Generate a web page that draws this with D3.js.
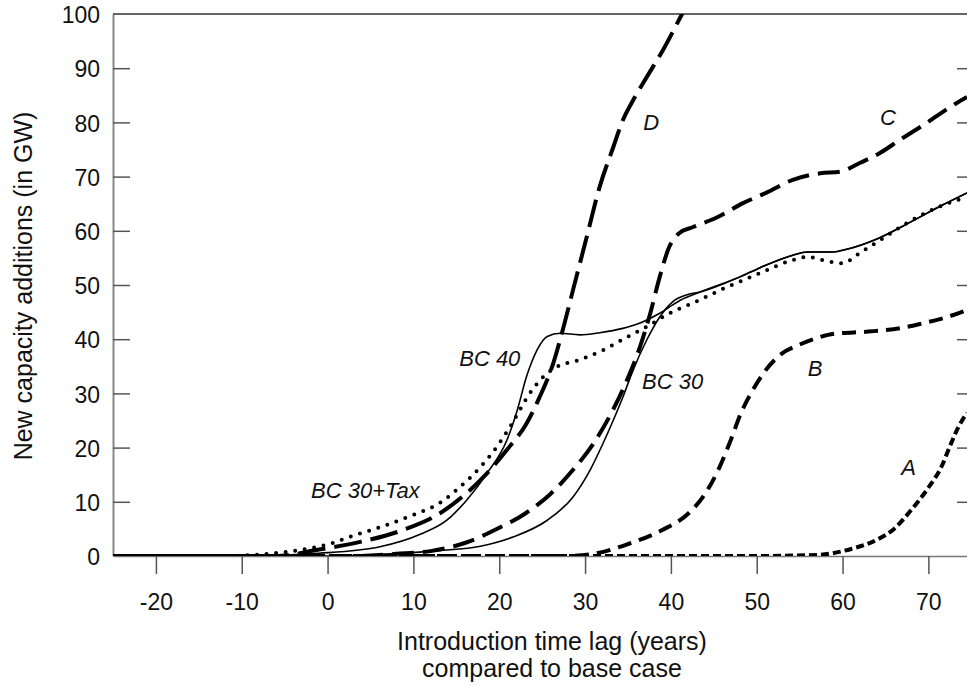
<!DOCTYPE html>
<html>
<head>
<meta charset="utf-8">
<script src="https://cdn.jsdelivr.net/npm/d3@7"></script>
<style>
  html, body { margin: 0; padding: 0; background: #fff; }
  svg { display: block; font-family: "Liberation Sans", Arial, sans-serif; }
</style>
</head>
<body>
<div id="chart"></div>
<script>
// ---- data (x = introduction time lag in years, y = GW) ----
const xTicks = [-20, -10, 0, 10, 20, 30, 40, 50, 60, 70];
const yTicks = [0, 10, 20, 30, 40, 50, 60, 70, 80, 90, 100];

const curveA = [[-25, 0], [50, 0], [57, 0.2], [61, 1.3], [64, 3.0], [66, 5.0], [68, 8.5], [70, 12.6],
  [71.5, 16.4], [72.6, 20.6], [73.5, 23.8], [74.5, 26.4]];

const curveB = [[-25, 0], [28, 0], [31, 0.4], [35, 2.2], [39, 4.8], [42, 7.8], [44, 11.5], [45.7, 16.5],
  [47, 21.5], [48.2, 26.5], [49.5, 30.5], [51, 34.2], [52.8, 37.2], [55, 39.0], [57, 40.2], [59, 41.0],
  [63, 41.4], [67, 42.1], [69.5, 43.0], [72, 44.0], [74.5, 45.4]];

const curveC = [[-25, 0], [3, 0], [8, 0.4], [12, 0.9], [16, 2.4], [20, 5.2], [23, 7.8], [26, 11.5],
  [28.6, 15.9], [31, 20.8], [33.2, 26.8], [34.9, 32.5], [36.4, 38.6], [37.6, 44.8], [38.7, 51.5],
  [39.8, 57], [41, 59.6], [42.6, 60.7], [45.4, 62.5], [48.4, 65.1], [51.2, 67.1], [54.2, 69.4],
  [57.4, 70.6], [59.7, 70.9], [62, 72.5], [64.4, 74.4], [66.7, 76.8], [69.8, 79.9], [72.5, 82.8], [74.5, 84.7]];

const curveD = [[-25, 0], [-6, 0], [-1, 1.2], [3.8, 2.6], [8.8, 4.8], [13.1, 7.9], [16.2, 11.6],
  [18.6, 15.3], [20.9, 19.6], [23.2, 24.5], [24.7, 29.3], [26.3, 35.6], [27.4, 41.7], [28.6, 49.1],
  [30.2, 58.9], [31.7, 68.1], [33.3, 75.5], [34.4, 80.4], [35.6, 84.1], [37.2, 88.4], [39.1, 93.4],
  [41.3, 100], [42.3, 103]];

const curveBC40 = [[-25, 0], [-10, 0], [-1, 0.5], [6.1, 1.7], [10.8, 4.0], [13.9, 6.6], [16.2, 10.3],
  [18.6, 15.3], [20.9, 21.4], [22.1, 26.9], [23.2, 33.2], [24.4, 38.0], [25.6, 40.5], [27.1, 41.1],
  [29.4, 40.8], [31.7, 41.2], [34.4, 42.0], [36.1, 42.8], [38.7, 44.8], [41.1, 47.2], [43.4, 48.7],
  [48.05, 51.5], [50.4, 53.2], [54.2, 55.5], [55.9, 56.1], [58.9, 56.1], [60.5, 56.6], [64, 58.5],
  [67.9, 61.6], [71.7, 64.8], [74.5, 67.0]];

const curveBC30Head = [[-25, 0], [0, 0], [6, 0.3], [13, 1.0], [17.8, 1.8], [21.6, 3.5], [25.6, 6.6],
  [28.6, 10.9], [30.6, 15.9], [32.1, 20.8], [33.3, 25.1], [34.4, 29.3], [35.6, 34.3], [37.2, 39.9],
  [38.7, 44.1], [40.2, 46.9], [41.9, 48.2], [43.4, 48.7]];
// past ~43 years BC 30 runs on top of BC 40
const curveBC30 = curveBC30Head.concat(curveBC40.filter(d => d[0] > 43.4));

const curveBC30Tax = [[-25, 0], [-12, 0], [-7, 0.4], [-3.2, 1.1], [0.6, 2.4], [2.3, 3.4], [6.1, 5.3],
  [10, 7.6], [13.1, 9.8], [15.4, 12.7], [17.8, 16.4], [19.7, 20.1], [21.4, 24.2], [23.6, 30.1],
  [25.1, 33.0], [26.7, 34.9], [29.4, 36.2], [32.1, 38.0], [34.9, 40.4], [37.2, 42.3], [39.5, 44.5],
  [42.6, 46.7], [46.5, 49.6], [50.4, 52.2], [54.2, 54.6], [55.9, 55.2], [57.7, 54.6], [60, 54.0],
  [62, 55.9], [64.4, 58.3], [67.9, 61.8], [71.2, 64.4], [74.5, 66.2]];

// ---- layout ----
const W = 967, H = 686;
const margin = { top: 14, right: 0, bottom: 130, left: 113 };
const innerW = W - margin.left - margin.right;
const innerH = H - margin.top - margin.bottom;

const x = d3.scaleLinear().domain([-25, 74.5]).range([0, innerW]);
const y = d3.scaleLinear().domain([0, 100]).range([innerH, 0]);

const svg = d3.select('#chart').append('svg')
  .attr('width', W)
  .attr('height', H);

const g = svg.append('g').attr('transform', `translate(${margin.left},${margin.top})`);

g.append('clipPath').attr('id', 'plot-clip')
  .append('rect').attr('x', 0).attr('y', 0).attr('width', innerW).attr('height', innerH);

// bottom axis (plain hyphen for negatives, as in the original)
const xAxis = g.append('g')
  .attr('transform', `translate(0,${innerH})`)
  .call(d3.axisBottom(x).tickValues(xTicks).tickFormat(d => String(d))
    .tickSizeInner(18).tickSizeOuter(0).tickPadding(20));
xAxis.select('.domain').attr('stroke', '#777').attr('stroke-width', 1.5);
xAxis.selectAll('.tick line').attr('stroke', '#555').attr('stroke-width', 1.5);
xAxis.selectAll('.tick text').attr('font-size', '23px').attr('fill', '#111');

// left axis, ticks pointing inwards
const yAxis = g.append('g')
  .call(d3.axisLeft(y).tickValues(yTicks).tickSizeInner(-17).tickSizeOuter(0).tickPadding(13));
yAxis.select('.domain').attr('stroke', '#888').attr('stroke-width', 2);
yAxis.selectAll('.tick line')
  .attr('stroke', '#555').attr('stroke-width', 1.5)
  .attr('display', d => (d === 0 || d === 100 ? 'none' : null));
yAxis.selectAll('.tick text').attr('font-size', '23px').attr('fill', '#111').attr('dy', '0.38em');

// right side ticks only
const yAxisR = g.append('g')
  .attr('transform', `translate(${innerW},0)`)
  .call(d3.axisRight(y).tickValues(yTicks.filter(v => v > 0 && v < 100)).tickSizeInner(-10).tickSizeOuter(0).tickFormat(''));
yAxisR.select('.domain').remove();
yAxisR.selectAll('.tick line').attr('stroke', '#555').attr('stroke-width', 1.5);

// top frame line
g.append('line')
  .attr('x1', 0).attr('x2', innerW).attr('y1', 0).attr('y2', 0)
  .attr('stroke', '#333').attr('stroke-width', 1.5);

// curves
const line = d3.line()
  .x(d => x(d[0]))
  .y(d => y(d[1]))
  .curve(d3.curveMonotoneX);

const series = [
  { data: curveBC40, width: 1.6, dash: null, cap: 'butt' },
  { data: curveBC30, width: 1.6, dash: null, cap: 'butt' },
  { data: curveBC30Tax, width: 4, dash: '0,9.6', cap: 'round' },
  { data: curveA, width: 4, dash: '8,4', cap: 'butt' },
  { data: curveB, width: 4, dash: '14,8', cap: 'butt' },
  { data: curveC, width: 4, dash: '22,9', cap: 'butt' },
  { data: curveD, width: 4, dash: '28,9', cap: 'butt' }
];

g.append('g').attr('clip-path', 'url(#plot-clip)')
  .selectAll('path')
  .data(series)
  .enter()
  .append('path')
  .attr('d', d => line(d.data))
  .attr('fill', 'none')
  .attr('stroke', '#000')
  .attr('stroke-width', d => d.width)
  .attr('stroke-dasharray', d => d.dash)
  .attr('stroke-linecap', d => d.cap);

// curve labels
const curveLabels = [
  { text: 'D', at: [37.7, 80.1] },
  { text: 'C', at: [65.3, 81.0] },
  { text: 'BC 40', at: [18.9, 36.5] },
  { text: 'BC 30', at: [40.2, 32.3] },
  { text: 'B', at: [56.8, 34.7] },
  { text: 'A', at: [67.7, 16.4] },
  { text: 'BC 30+Tax', at: [4.4, 12.2] }
];

g.selectAll('.curve-label')
  .data(curveLabels)
  .enter()
  .append('text')
  .attr('class', 'curve-label')
  .attr('x', d => x(d.at[0]))
  .attr('y', d => y(d.at[1]))
  .attr('dy', '0.36em')
  .attr('text-anchor', 'middle')
  .attr('font-size', '22px')
  .attr('font-style', 'italic')
  .attr('fill', '#111')
  .text(d => d.text);

// axis titles
svg.append('text')
  .attr('transform', 'translate(32,286) rotate(-90)')
  .attr('text-anchor', 'middle')
  .attr('font-size', '25px')
  .attr('fill', '#111')
  .text('New capacity additions (in GW)');

svg.append('text')
  .attr('x', 552).attr('y', 650)
  .attr('text-anchor', 'middle')
  .attr('font-size', '25px')
  .attr('fill', '#111')
  .text('Introduction time lag (years)');

svg.append('text')
  .attr('x', 552).attr('y', 677)
  .attr('text-anchor', 'middle')
  .attr('font-size', '25px')
  .attr('fill', '#111')
  .text('compared to base case');
</script>
</body>
</html>
